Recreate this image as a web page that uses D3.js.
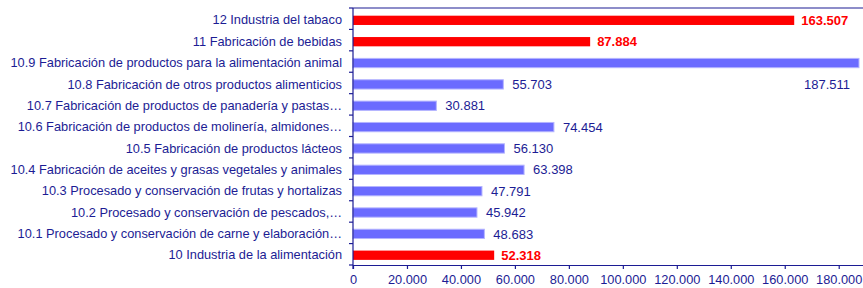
<!DOCTYPE html>
<html>
<head>
<meta charset="utf-8">
<script src="https://cdn.jsdelivr.net/npm/d3@7"></script>
<style>
  body { margin: 0; background: #fff; }
  text { font-family: "Liberation Sans", Arial, sans-serif; }
</style>
</head>
<body>
<svg id="chart" width="863" height="288"></svg>
<script>
// categories top to bottom
var categories = [
  "12 Industria del tabaco",
  "11 Fabricación de bebidas",
  "10.9 Fabricación de productos para la alimentación animal",
  "10.8 Fabricación de otros productos alimenticios",
  "10.7 Fabricación de productos de panadería y pastas…",
  "10.6 Fabricación de productos de molinería, almidones…",
  "10.5 Fabricación de productos lácteos",
  "10.4 Fabricación de aceites y grasas vegetales y animales",
  "10.3 Procesado y conservación de frutas y hortalizas",
  "10.2 Procesado y conservación de pescados,…",
  "10.1 Procesado y conservación de carne y elaboración…",
  "10 Industria de la alimentación"
];
var values = [163507, 87884, 187511, 55703, 30881, 74454, 56130, 63398, 47791, 45942, 48683, 52318];
var highlight = [true, true, false, false, false, false, false, false, false, false, false, true];
var xTicks = [0, 20000, 40000, 60000, 80000, 100000, 120000, 140000, 160000, 180000];

var svg = d3.select("#chart");
var width = +svg.attr("width");
var plotLeft = 353, plotTop = 8, plotBottom = 265;

var navy = "#1c1c94";
var fmt = function(v){ return d3.format(",")(v).replace(/,/g, "."); };

var x = d3.scaleLinear().domain([0, 189000]).range([plotLeft, width]);
var y = d3.scaleBand().domain(categories).range([plotTop, plotBottom])
  .paddingInner(0.565).paddingOuter(0.3).align(0.6);
var step = (plotBottom - plotTop) / categories.length;

// top frame line
svg.append("line").attr("x1", plotLeft).attr("x2", width).attr("y1", plotTop).attr("y2", plotTop)
  .attr("stroke", navy).attr("stroke-width", 1.2);

// bars
svg.selectAll("rect.bar").data(values).enter().append("rect")
  .attr("class", "bar")
  .attr("x", x(0))
  .attr("y", function(d, i){ return y(categories[i]); })
  .attr("width", function(d){ return x(d) - x(0); })
  .attr("height", y.bandwidth())
  .attr("fill", function(d, i){ return highlight[i] ? "#ff0000" : "#6b6bff"; })
  .attr("stroke", function(d, i){ return highlight[i] ? "none" : "#b4b4ff"; })
  .attr("stroke-width", 1);

// value labels
svg.selectAll("text.val").data(values).enter().append("text")
  .attr("class", "val")
  .each(function(d, i){
    var t = d3.select(this);
    var cy = y(categories[i]) + y.bandwidth() / 2;
    if (x(d) + 50 > width) {
      // no room on the right: put it under the bar end
      t.attr("x", x(d) - 9).attr("y", cy + step).attr("text-anchor", "end");
    } else {
      t.attr("x", x(d) + (highlight[i] ? 7 : 9)).attr("y", cy).attr("text-anchor", "start");
    }
  })
  .attr("dy", "0.36em")
  .attr("font-size", 13)
  .attr("font-weight", function(d, i){ return highlight[i] ? "bold" : "normal"; })
  .attr("fill", function(d, i){ return highlight[i] ? "#ff0000" : navy; })
  .text(fmt);

// y axis
var yAxis = svg.append("g").attr("transform", "translate(" + plotLeft + ",0)")
  .call(d3.axisLeft(y).tickSize(0).tickPadding(11));
yAxis.select(".domain").remove();
yAxis.selectAll("text").attr("font-size", 12.8).attr("fill", navy)
  .style("font-family", "'Liberation Sans', Arial, sans-serif");
svg.append("line").attr("x1", plotLeft).attr("x2", plotLeft).attr("y1", plotTop).attr("y2", plotBottom + 4)
  .attr("stroke", navy).attr("stroke-width", 1.2);
// boundary ticks between categories
var bounds = d3.range(categories.length + 1).map(function(i){ return plotTop + i * step; });
svg.selectAll("line.ytick").data(bounds).enter().append("line")
  .attr("class", "ytick")
  .attr("x1", plotLeft - 4).attr("x2", plotLeft)
  .attr("y1", function(d){ return d; }).attr("y2", function(d){ return d; })
  .attr("stroke", navy).attr("stroke-width", 1.2);

// x axis
var xAxis = svg.append("g").attr("transform", "translate(0," + plotBottom + ")")
  .call(d3.axisBottom(x).tickValues(xTicks).tickFormat(fmt).tickSizeInner(4).tickSizeOuter(0).tickPadding(6));
xAxis.select(".domain").attr("stroke", navy).attr("stroke-width", 1.2);
xAxis.selectAll(".tick line").attr("stroke", navy).attr("stroke-width", 1.2);
xAxis.selectAll("text").attr("font-size", 12.8).attr("fill", navy)
  .style("font-family", "'Liberation Sans', Arial, sans-serif");
</script>
</body>
</html>
